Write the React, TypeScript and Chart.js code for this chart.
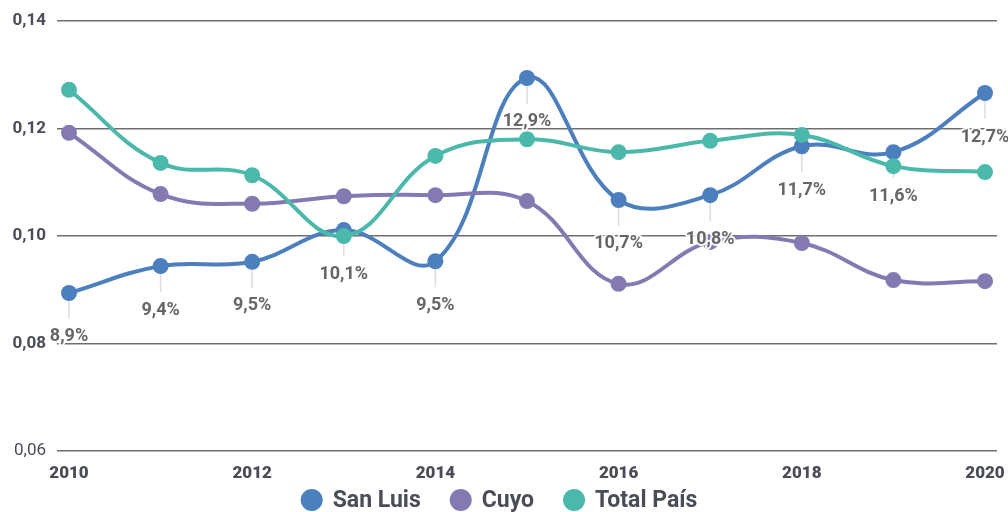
import React, { useEffect, useRef } from "react";
import { Chart, registerables } from "chart.js";

Chart.register(...registerables);

const years = [2010, 2011, 2012, 2013, 2014, 2015, 2016, 2017, 2018, 2019, 2020];
const tickYears = [2010, 2012, 2014, 2016, 2018, 2020];
const yTicks = [0.06, 0.08, 0.1, 0.12, 0.14];
const sanLuis = [0.0894, 0.0944, 0.0952, 0.1011, 0.0953, 0.1294, 0.1067, 0.1076, 0.1167, 0.1156, 0.1266];
const sanLuisLabels = ["8,9%", "9,4%", "9,5%", "10,1%", "9,5%", "12,9%", "10,7%", "10,8%", "11,7%", "11,6%", "12,7%"];
const cuyo = [0.1192, 0.1078, 0.106, 0.1074, 0.1076, 0.1065, 0.0911, 0.0989, 0.0987, 0.0918, 0.0916];
const totalPais = [0.1272, 0.1136, 0.1113, 0.1, 0.1149, 0.118, 0.1156, 0.1177, 0.1188, 0.113, 0.1119];
const seriesNames = ["San Luis", "Cuyo", "Total País"];
const seriesColors = ["#4c7fbe", "#8579b2", "#4bb8ac"];

const TEXT = "#4a4d57";

const labelPlugin = {
  id: "sanLuisLabels",
  beforeDatasetsDraw(chart: any) {
    const ctx = chart.ctx;
    const meta = chart.getDatasetMeta(0);
    ctx.save();
    ctx.strokeStyle = "#dddddd";
    ctx.lineWidth = 1.5;
    meta.data.forEach((pt: any) => {
      ctx.beginPath();
      ctx.moveTo(pt.x, pt.y);
      ctx.lineTo(pt.x, pt.y + 26);
      ctx.stroke();
    });
    ctx.restore();
  },
  afterDatasetsDraw(chart: any) {
    const ctx = chart.ctx;
    const meta = chart.getDatasetMeta(0);
    ctx.save();
    ctx.font = "bold 18px Roboto";
    ctx.textAlign = "center";
    ctx.textBaseline = "middle";
    ctx.lineJoin = "round";
    meta.data.forEach((pt: any, i: number) => {
      const t = sanLuisLabels[i];
      ctx.strokeStyle = "rgba(255,255,255,0.9)";
      ctx.lineWidth = 4;
      ctx.strokeText(t, pt.x, pt.y + 44);
      ctx.fillStyle = "#666666";
      ctx.fillText(t, pt.x, pt.y + 44);
    });
    ctx.restore();
  },
};

const legendPlugin = {
  id: "customLegend",
  afterDraw(chart: any) {
    const ctx = chart.ctx;
    const r = 11;
    const textGap = 21;
    const itemGap = 40;
    const y = 500;
    ctx.save();
    ctx.font = "bold 23px Roboto";
    const widths = seriesNames.map((n) => ctx.measureText(n).width);
    let total = 0;
    widths.forEach((w, i) => {
      total += r + textGap + w + (i < widths.length - 1 ? itemGap : 0);
    });
    let x = 510 - total / 2;
    ctx.textBaseline = "middle";
    ctx.textAlign = "left";
    seriesNames.forEach((n, i) => {
      const cx = x + r;
      ctx.fillStyle = seriesColors[i];
      ctx.beginPath();
      ctx.arc(cx, y, r, 0, Math.PI * 2);
      ctx.fill();
      ctx.fillStyle = TEXT;
      ctx.fillText(n, cx + textGap, y + 1);
      x = cx + textGap + widths[i] + itemGap - r;
    });
    ctx.restore();
  },
};

export default function App() {
  const ref = useRef<HTMLCanvasElement>(null);
  useEffect(() => {
    if (!ref.current) return;
    const seriesData = [sanLuis, cuyo, totalPais];
    const chart = new Chart(ref.current, {
      type: "line",
      data: {
        datasets: seriesData.map((vals, k) => ({
          label: seriesNames[k],
          data: vals.map((v, i) => ({ x: years[i], y: v })),
          borderColor: seriesColors[k],
          backgroundColor: seriesColors[k],
          pointBackgroundColor: seriesColors[k],
          pointBorderWidth: 0,
          pointRadius: 8,
          borderWidth: 4,
          tension: 0.4,
          fill: false,
          order: 3 - k,
        })),
      },
      options: {
        animation: false,
        responsive: false,
        maintainAspectRatio: false,
        layout: { padding: { top: 21, right: 11, left: 0, bottom: 31 } },
        plugins: {
          tooltip: { enabled: false },
          legend: { display: false },
        },
        scales: {
          x: {
            type: "linear",
            min: 2010 - 0.131,
            max: 2020 + 0.131,
            afterBuildTicks: (s: any) => {
              s.ticks = tickYears.map((v) => ({ value: v }));
            },
            afterFit: (s: any) => {
              s.height = 30;
              s.paddingLeft = 0;
              s.paddingRight = 0;
            },
            ticks: {
              autoSkip: false,
              maxRotation: 0,
              padding: 13,
              color: TEXT,
              font: { family: "Roboto", size: 17, weight: "900" },
              callback: (v: any) => String(v),
            },
            grid: { display: false, drawTicks: false },
            border: { display: false },
          },
          y: {
            min: 0.06,
            max: 0.14,
            afterBuildTicks: (s: any) => {
              s.ticks = yTicks.map((v) => ({ value: v }));
            },
            afterFit: (s: any) => {
              s.width = 57;
              s.paddingTop = 0;
              s.paddingBottom = 0;
            },
            ticks: {
              padding: 11,
              color: TEXT,
              font: (c: any) => ({
                family: "Roboto",
                size: 17,
                weight: c.tick && c.tick.value < 0.07 ? "normal" : "bold",
              }),
              callback: (v: any) => Number(v).toFixed(2).replace(".", ","),
            },
            grid: { color: "#6e6e6e", lineWidth: 1.5, drawTicks: false },
            border: { display: false },
          },
        },
      },
      plugins: [labelPlugin, legendPlugin],
    } as any);
    return () => chart.destroy();
  }, []);
  return (
    <div style={{ position: "fixed", left: 0, top: 0, width: 1008, height: 512, background: "#fff" }}>
      <canvas ref={ref} width={1008} height={512} style={{ display: "block", width: 1008, height: 512 }} />
    </div>
  );
}
